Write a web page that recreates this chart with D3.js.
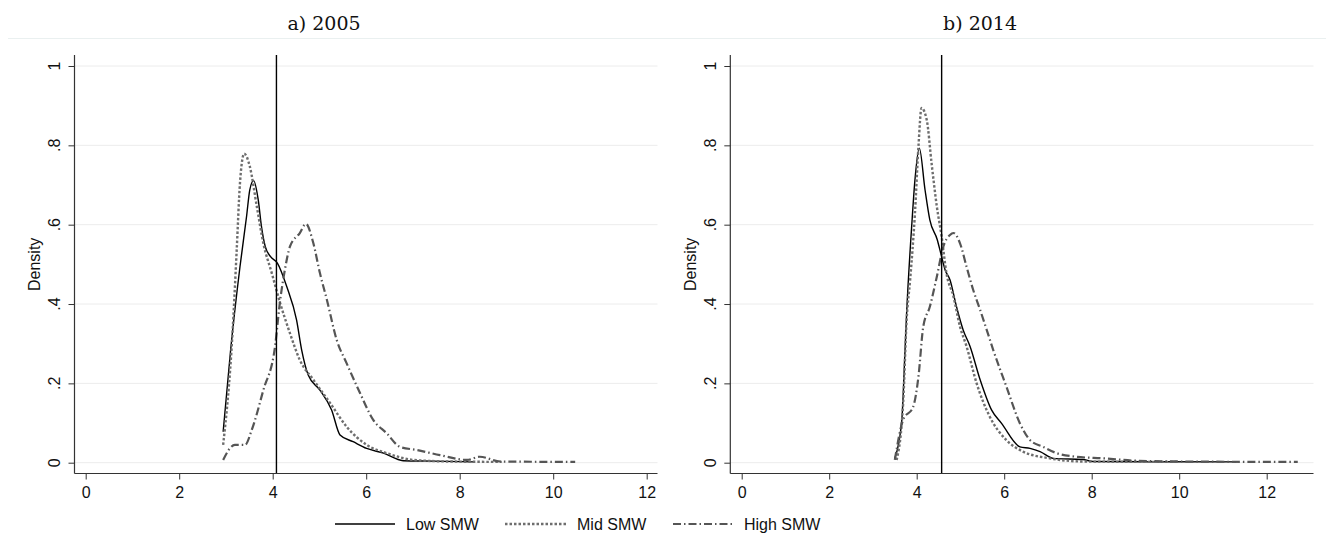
<!DOCTYPE html>
<html><head><meta charset="utf-8">
<script src="https://cdn.jsdelivr.net/npm/d3@7"></script>
<style>html,body{margin:0;padding:0;background:#fff;}svg{display:block;}</style>
</head><body>
<svg id="chart" width="1333" height="549"></svg>
<script>
// ---- data ----
const panelTitles = ["a) 2005", "b) 2014"];
const seriesNames = ["Low SMW", "Mid SMW", "High SMW"];
const xTicks = [0, 2, 4, 6, 8, 10, 12];
const yTicks = [0, 0.2, 0.4, 0.6, 0.8, 1];
const yTickLabels = ["0", ".2", ".4", ".6", ".8", "1"];
const refLines = [4.08, 4.57];

const low2005 = [[2.94,0.078],[3.10,0.284],[3.30,0.494],[3.44,0.62],[3.51,0.688],[3.59,0.711],[3.69,0.663],[3.76,0.595],[3.84,0.545],[3.95,0.52],[4.10,0.503],[4.30,0.444],[4.51,0.36],[4.62,0.284],[4.76,0.221],[5.01,0.183],[5.26,0.133],[5.44,0.070],[5.72,0.053],[6.01,0.036],[6.37,0.024],[6.79,0.005],[7.44,0.004],[8.29,0.002]];
const mid2005 = [[2.94,0.045],[3.14,0.326],[3.23,0.536],[3.30,0.705],[3.39,0.779],[3.51,0.747],[3.66,0.646],[3.80,0.553],[3.98,0.478],[4.16,0.402],[4.37,0.326],[4.58,0.259],[4.87,0.209],[5.23,0.150],[5.58,0.091],[6.01,0.045],[6.44,0.024],[7.01,0.007],[7.80,0.003],[8.90,0.002]];
const high2005 = [[2.94,0.007],[3.19,0.045],[3.41,0.045],[3.55,0.082],[3.80,0.183],[4.05,0.293],[4.16,0.41],[4.26,0.486],[4.37,0.545],[4.58,0.579],[4.71,0.602],[4.87,0.553],[5.01,0.478],[5.16,0.41],[5.37,0.309],[5.58,0.251],[5.87,0.175],[6.15,0.108],[6.44,0.074],[6.72,0.04],[7.08,0.032],[7.58,0.019],[8.15,0.007],[8.43,0.015],[8.87,0.003],[10.47,0.002]];

const low2014 = [[3.50,0.011],[3.66,0.108],[3.73,0.276],[3.77,0.377],[3.89,0.604],[3.96,0.713],[4.06,0.793],[4.19,0.688],[4.30,0.612],[4.47,0.562],[4.55,0.528],[4.65,0.486],[4.76,0.461],[4.91,0.393],[5.06,0.335],[5.22,0.293],[5.45,0.209],[5.71,0.133],[5.94,0.099],[6.36,0.040],[6.59,0.036],[6.82,0.028],[7.12,0.011],[7.80,0.008],[8.03,0.003],[11.31,0.002]];
const mid2014 = [[3.54,0.007],[3.69,0.15],[3.77,0.36],[3.85,0.461],[3.96,0.629],[4.04,0.797],[4.11,0.894],[4.23,0.864],[4.34,0.755],[4.46,0.646],[4.57,0.57],[4.68,0.478],[4.84,0.419],[4.99,0.343],[5.14,0.293],[5.37,0.2],[5.67,0.116],[6.05,0.057],[6.43,0.028],[7.04,0.011],[7.80,0.003],[10.0,0.002]];
const high2014 = [[3.50,0.007],[3.69,0.108],[3.92,0.141],[4.04,0.217],[4.15,0.343],[4.30,0.393],[4.46,0.469],[4.61,0.545],[4.76,0.574],[4.84,0.579],[4.99,0.553],[5.14,0.494],[5.29,0.436],[5.45,0.385],[5.60,0.335],[5.75,0.284],[6.05,0.192],[6.36,0.099],[6.59,0.057],[6.89,0.040],[7.20,0.024],[7.65,0.015],[8.26,0.011],[9.02,0.005],[10.09,0.003],[12.71,0.002]];

const panelSeries = [[low2005, mid2005, high2005], [low2014, mid2014, high2014]];

// ---- styles ----
const styles = [
  {stroke:"#000", width:1.4, dash:null},
  {stroke:"#6e6e6e", width:2.4, dash:"2.5,2"},
  {stroke:"#555", width:2.2, dash:"8,3,1.5,3"}
];

const svg = d3.select("#chart");
const sans = "'Liberation Sans', Arial, sans-serif";

// title divider
svg.append("line").attr("x1",8).attr("x2",1326).attr("y1",38.5).attr("y2",38.5)
  .attr("stroke","#eaf0f0").attr("stroke-width",1);

const panels = [
  {axisX:74.5, x0:85.7, x12:646.7, right:657.5, titleX:324},
  {axisX:730.3, x0:741.7, x12:1266.7, right:1313.5, titleX:980}
];
const yTop = 55, yAxisY = 473.5;
const y = d3.scaleLinear().domain([0,1]).range([462.7, 66]);

panels.forEach((p, i) => {
  const x = d3.scaleLinear().domain([0,12]).range([p.x0, p.x12]);
  const g = svg.append("g");

  // title
  svg.append("text").attr("x", p.titleX).attr("y", 30).attr("text-anchor","middle")
    .attr("font-family","'DejaVu Serif', 'Liberation Serif', serif").attr("font-size",19)
    .attr("fill","#111").text(panelTitles[i]);

  // gridlines
  g.selectAll("line.grid").data(yTicks).join("line")
    .attr("x1", p.axisX).attr("x2", p.right)
    .attr("y1", d => y(d)).attr("y2", d => y(d))
    .attr("stroke","#ececec").attr("stroke-width",1);

  // curves
  const line = d3.line().x(d => x(d[0])).y(d => y(d[1])).curve(d3.curveMonotoneX);
  panelSeries[i].forEach((s, k) => {
    g.append("path").datum(s).attr("d", line).attr("fill","none")
      .attr("stroke", styles[k].stroke).attr("stroke-width", styles[k].width)
      .attr("stroke-dasharray", styles[k].dash).attr("stroke-linejoin","round");
  });

  // reference line
  g.append("line").attr("x1", x(refLines[i])).attr("x2", x(refLines[i]))
    .attr("y1", yTop).attr("y2", yAxisY).attr("stroke","#000").attr("stroke-width",1.4);

  // y axis
  const ya = g.append("g").attr("transform", `translate(${p.axisX},0)`)
    .call(d3.axisLeft(y).tickValues(yTicks).tickSize(6).tickFormat(""));
  ya.select(".domain").remove();
  ya.selectAll("line").attr("stroke","#333");
  g.append("line").attr("x1",p.axisX).attr("x2",p.axisX).attr("y1",yTop).attr("y2",yAxisY)
    .attr("stroke","#333").attr("stroke-width",1.2);
  g.selectAll("text.ylab").data(yTicks).join("text")
    .attr("transform", (d) => `translate(${p.axisX - 14.5},${y(d)}) rotate(-90)`)
    .attr("text-anchor","middle").attr("font-family",sans).attr("font-size",16).attr("fill","#111")
    .text((d, j) => yTickLabels[j]);
  g.append("text").attr("transform", `translate(${p.axisX - 34.5},${y(0.5)}) rotate(-90)`)
    .attr("text-anchor","middle").attr("font-family",sans).attr("font-size",16).attr("fill","#111")
    .text("Density");

  // x axis
  const xa = g.append("g").attr("transform", `translate(0,${yAxisY})`)
    .call(d3.axisBottom(x).tickValues(xTicks).tickSize(6).tickFormat(d3.format("d")));
  xa.select(".domain").remove();
  xa.selectAll("line").attr("stroke","#333");
  xa.selectAll("text").attr("font-family",sans).attr("font-size",16).attr("fill","#111").attr("dy","0.95em");
  g.append("line").attr("x1",p.axisX).attr("x2",p.right).attr("y1",yAxisY).attr("y2",yAxisY)
    .attr("stroke","#333").attr("stroke-width",1.2);
});

// legend
const legendItems = [
  {x1:335, x2:395, tx:406},
  {x1:505, x2:566, tx:577},
  {x1:673, x2:735, tx:744}
];
const lg = svg.append("g");
legendItems.forEach((it, k) => {
  lg.append("line").attr("x1",it.x1).attr("x2",it.x2).attr("y1",524).attr("y2",524)
    .attr("stroke",styles[k].stroke).attr("stroke-width",styles[k].width)
    .attr("stroke-dasharray",styles[k].dash);
  lg.append("text").attr("x",it.tx).attr("y",530).attr("font-family",sans).attr("font-size",16)
    .attr("fill","#111").text(seriesNames[k]);
});
</script>
</body></html>
